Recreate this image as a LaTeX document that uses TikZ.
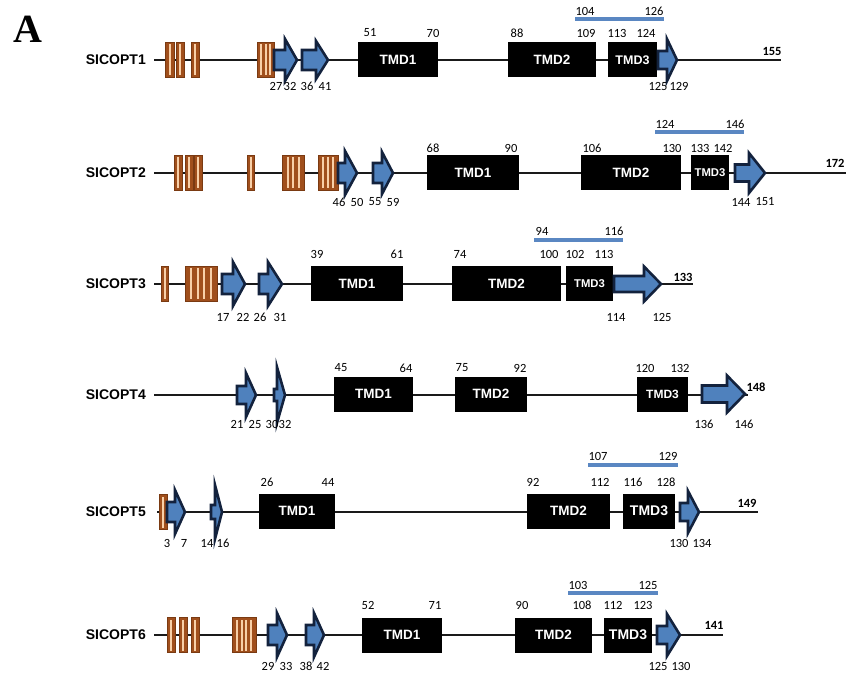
\documentclass[tikz,border=0pt]{standalone}
\usepackage{fontspec}
\setmainfont{Liberation Sans}
\newfontfamily\numfont{Carlito}
\newfontfamily\panelfont{Liberation Serif}
\usepackage{xcolor}
\usetikzlibrary{positioning}
\definecolor{ink}{HTML}{1A1A1A}
\definecolor{navy}{HTML}{13223D}
\definecolor{sheetblue}{HTML}{4F81BD}
\definecolor{barblue}{HTML}{5A87C2}
\definecolor{brown}{HTML}{A04F1C}
\definecolor{rust}{HTML}{7A3A12}
\definecolor{peach}{HTML}{F8D0A8}
\tikzset{
  backbone/.style={draw=ink,line width=1.2pt},
  bar/.style={draw=barblue,line width=3.4pt},
  tmd/.style={fill=black,text=white,minimum height=35pt,inner sep=0pt},
  sheetst/.style={draw=navy,fill=sheetblue,line width=2.6pt,line join=miter},
  lcfill/.style={draw=rust,fill=brown,line width=.8pt},
  lcstripe/.style={fill=peach},
  gene/.style={font=\fontsize{14}{14}\selectfont\bfseries,inner sep=0pt},
  num/.style={font=\numfont\fontsize{12.5}{12.5}\selectfont,inner sep=0pt},
  endnum/.style={font=\numfont\fontsize{12.5}{12.5}\selectfont\bfseries,inner sep=0pt},
}
% orange box: left, right, y, number of stripes
\newcommand{\lcbox}[4]{%
  \draw[lcfill] (#1,#3-17.5) rectangle (#2,#3+17.5);
  \foreach \k in {1,...,#4}{\fill[lcstripe] ({#1+\k*(#2-#1)/(#4+1)-1},{#3-15.5}) rectangle ++(2,31);}
}
% blue arrow: tail, head start, tip, y, body half, head half
\newcommand{\sheet}[6]{%
  \draw[sheetst] (#1,#4-#5) -- (#2,#4-#5) -- (#2,#4-#6) -- (#3,#4) -- (#2,#4+#6) -- (#2,#4+#5) -- (#1,#4+#5) -- cycle;
}
% black TMD box: name, left, right, y, label, font size
\newcommand{\tmdbox}[6]{%
  \node[tmd,font=\fontsize{#6}{#6}\selectfont\bfseries,minimum width={(#3-#2)*1pt}] (#1) at ({(#2+#3)/2},#4) {#5};
}

\begin{document}
\begin{tikzpicture}[x=1pt,y=-1pt]
  \useasboundingbox (0,0) rectangle (849,676);
  \node[font=\panelfont\fontsize{40}{40}\selectfont\bfseries,inner sep=0pt] (panel) at (28,29) {A};

  % SICOPT1
  \coordinate (s1) at (154,60);
  \coordinate (e1) at (781,60);
  \draw[backbone] (s1) -- (e1);
  \node[gene,left=8pt of s1] (g1) {SICOPT1};
  \lcbox{165}{174}{60}{1}
  \lcbox{176}{184}{60}{1}
  \lcbox{191}{199}{60}{1}
  \lcbox{257}{274}{60}{3}
  \sheet{274}{285}{297}{60}{10}{21}
  \sheet{302}{316}{328}{60}{10}{19}
  \tmdbox{t11}{358}{438}{60}{TMD1}{13.5}
  \tmdbox{t12}{508}{596}{60}{TMD2}{13.5}
  \tmdbox{t13}{608}{657}{60}{TMD3}{12.5}
  \sheet{658}{667}{677}{60}{9}{21}
  \foreach \x/\t in {370/51,433/70,517/88,586/109,617/113,646/124}
    \node[num] (r1-\t) at (\x,33) {\t};
  \foreach \x/\t in {276/27,290/32,307/36,325/41,658/125,679/129}
    \node[num] (q1-\t) at (\x,86) {\t};
  \coordinate (b1l) at (575,19);
  \coordinate (b1r) at (664,19);
  \draw[bar] (b1l) -- (b1r);
  \node[num] (p1a) at (585,11) {104};
  \node[num] (p1b) at (654,11) {126};
  \node[endnum] (n1) at (772,51) {155};

  % SICOPT2
  \coordinate (s2) at (154,173);
  \coordinate (e2) at (846,173);
  \draw[backbone] (s2) -- (e2);
  \node[gene,left=8pt of s2] (g2) {SICOPT2};
  \lcbox{174}{182}{173}{1}
  \lcbox{185}{193}{173}{1}
  \lcbox{194}{202}{173}{1}
  \lcbox{247}{254}{173}{1}
  \lcbox{282}{304}{173}{3}
  \lcbox{318}{338}{173}{3}
  \sheet{338}{345}{357}{173}{10}{22}
  \sheet{373}{382}{393}{173}{10}{21}
  \tmdbox{t21}{427}{519}{173}{TMD1}{13.5}
  \tmdbox{t22}{581}{681}{173}{TMD2}{13.5}
  \tmdbox{t23}{691}{729}{173}{TMD3}{11.3}
  \sheet{735}{749}{765}{173}{8.5}{20}
  \foreach \x/\t in {433/68,511/90,592/106,672/130,700/133,723/142}
    \node[num] (r2-\t) at (\x,148) {\t};
  \foreach \x/\t in {339/46,357/50,375/55,393/59,741/144,765/151}
    \node[num] (q2-\t) at (\x,202) {\t};
  \coordinate (b2l) at (655,132);
  \coordinate (b2r) at (744,132);
  \draw[bar] (b2l) -- (b2r);
  \node[num] (p2a) at (665,124) {124};
  \node[num] (p2b) at (735,124) {146};
  \node[endnum] (n2) at (835,163) {172};

  % SICOPT3
  \coordinate (s3) at (154,284);
  \coordinate (e3) at (693,284);
  \draw[backbone] (s3) -- (e3);
  \node[gene,left=8pt of s3] (g3) {SICOPT3};
  \lcbox{161}{168}{284}{1}
  \lcbox{185}{217}{284}{4}
  \sheet{222}{233}{245}{284}{10}{22}
  \sheet{259}{268}{282}{284}{10}{22}
  \tmdbox{t31}{311}{403}{284}{TMD1}{13.5}
  \tmdbox{t32}{452}{561}{284}{TMD2}{13.5}
  \tmdbox{t33}{566}{613}{284}{TMD3}{11.3}
  \sheet{614}{644}{661}{284}{8}{17.5}
  \foreach \x/\t in {317/39,397/61,460/74,549/100,575/102,604/113}
    \node[num] (r3-\t) at (\x,254) {\t};
  \foreach \x/\t in {223/17,243/22,260/26,280/31,616/114,662/125}
    \node[num] (q3-\t) at (\x,317) {\t};
  \coordinate (b3l) at (534,240);
  \coordinate (b3r) at (623,240);
  \draw[bar] (b3l) -- (b3r);
  \node[num] (p3a) at (542,231) {94};
  \node[num] (p3b) at (614,231) {116};
  \node[endnum] (n3) at (683,277) {133};

  % SICOPT4
  \coordinate (s4) at (154,395);
  \coordinate (e4) at (748,395);
  \draw[backbone] (s4) -- (e4);
  \node[gene,left=8pt of s4] (g4) {SICOPT4};
  \sheet{237}{246}{256}{395}{9}{22}
  \sheet{274}{277}{285}{395}{6}{28}
  \tmdbox{t41}{334}{413}{394}{TMD1}{13.5}
  \tmdbox{t42}{455}{527}{394}{TMD2}{13.5}
  \tmdbox{t43}{637}{688}{394}{TMD3}{12}
  \sheet{702}{727}{745}{394}{8.5}{18.5}
  \foreach \x/\t in {341/45,406/64,462/75,520/92,645/120,680/132}
    \node[num] (r4-\t) at (\x,368) {\t};
  \foreach \x/\t in {237/21,255/25,272/30,285/32,704/136,744/146}
    \node[num] (q4-\t) at (\x,424) {\t};
  \node[endnum] (n4) at (756,387) {148};

  % SICOPT5
  \coordinate (s5) at (157,512);
  \coordinate (e5) at (758,512);
  \draw[backbone] (s5) -- (e5);
  \node[gene,left=11pt of s5] (g5) {SICOPT5};
  \lcbox{159}{167}{512}{1}
  \sheet{167}{175}{185}{512}{10}{22}
  \sheet{211}{215}{222}{512}{7}{27}
  \tmdbox{t51}{259}{335}{511}{TMD1}{13.5}
  \tmdbox{t52}{527}{610}{511}{TMD2}{13.5}
  \tmdbox{t53}{623}{675}{511}{TMD3}{14}
  \sheet{680}{688}{699}{512}{9}{21}
  \foreach \x/\t in {267/26,328/44,533/92,600/112,633/116,666/128}
    \node[num] (r5-\t) at (\x,482) {\t};
  \foreach \x/\t in {167/3,184/7,207/14,223/16,679/130,702/134}
    \node[num] (q5-\t) at (\x,543) {\t};
  \coordinate (b5l) at (588,465);
  \coordinate (b5r) at (678,465);
  \draw[bar] (b5l) -- (b5r);
  \node[num] (p5a) at (598,456) {107};
  \node[num] (p5b) at (668,456) {129};
  \node[endnum] (n5) at (747,503) {149};

  % SICOPT6
  \coordinate (s6) at (154,635);
  \coordinate (e6) at (723,635);
  \draw[backbone] (s6) -- (e6);
  \node[gene,left=8pt of s6] (g6) {SICOPT6};
  \lcbox{167}{175}{635}{1}
  \lcbox{179}{187}{635}{1}
  \lcbox{191}{199}{635}{1}
  \lcbox{232}{256}{635}{4}
  \sheet{268}{277}{287}{635}{10}{22}
  \sheet{306}{314}{324}{635}{10}{22}
  \tmdbox{t61}{362}{442}{635}{TMD1}{13.5}
  \tmdbox{t62}{515}{592}{635}{TMD2}{13.5}
  \tmdbox{t63}{604}{652}{635}{TMD3}{14}
  \sheet{657}{667}{680}{635}{9}{21}
  \foreach \x/\t in {368/52,435/71,522/90,582/108,613/112,643/123}
    \node[num] (r6-\t) at (\x,605) {\t};
  \foreach \x/\t in {268/29,286/33,306/38,323/42,658/125,681/130}
    \node[num] (q6-\t) at (\x,666) {\t};
  \coordinate (b6l) at (568,593);
  \coordinate (b6r) at (658,593);
  \draw[bar] (b6l) -- (b6r);
  \node[num] (p6a) at (578,585) {103};
  \node[num] (p6b) at (648,585) {125};
  \node[endnum] (n6) at (714,625) {141};
\end{tikzpicture}
\end{document}
